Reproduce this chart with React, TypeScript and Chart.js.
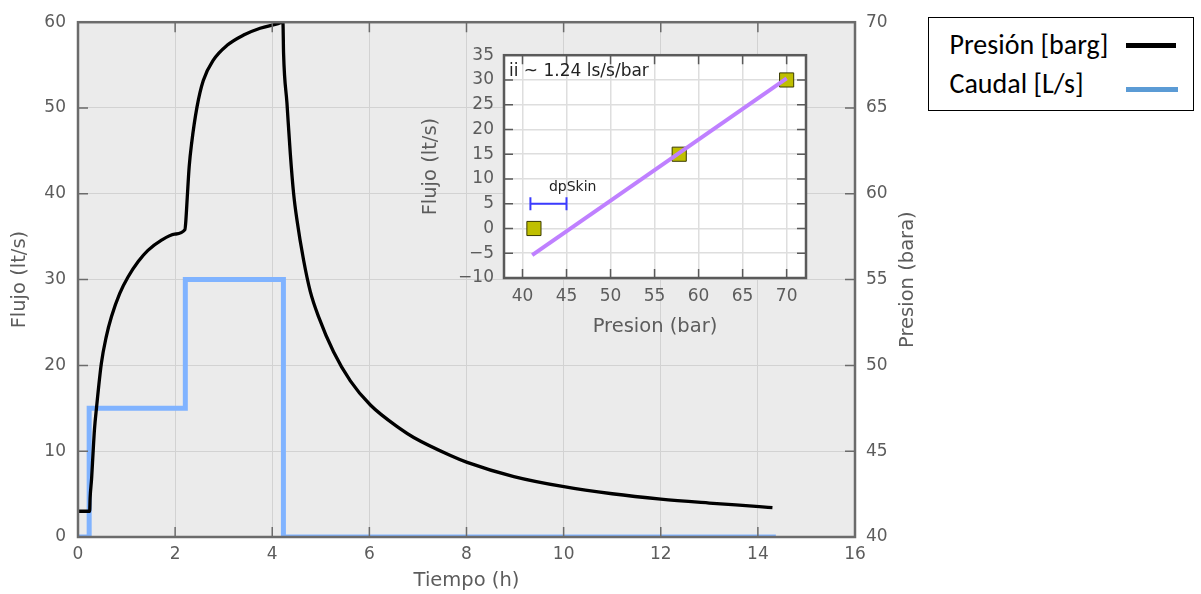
import React, { useEffect, useRef } from 'react';
import { Chart, registerables } from 'chart.js';

Chart.register(...registerables);

// ---------- Main chart data ----------
const pressureTime = [
  0, 0.24, 0.25, 0.28, 0.31, 0.34, 0.38, 0.48, 0.58, 0.69, 0.86, 1.03, 1.24, 1.44, 1.72, 1.99, 2.2,
  2.22, 2.25, 2.29, 2.34, 2.45, 2.58, 2.79, 3.07, 3.41, 3.75, 4.1, 4.22,
  4.233, 4.303, 4.371, 4.439, 4.509, 4.645, 4.784, 4.955, 5.264, 5.608, 6.021, 6.639, 6.913, 7.67,
  8.014, 8.975, 10.006, 11.0, 12.0, 13.0, 14.03, 14.3,
];
const pressureValues = [
  41.5, 41.5, 42.3, 43.4, 44.9, 46.3, 47.5, 50.1, 51.65, 52.85, 54.2, 55.15, 56.05, 56.7, 57.3, 57.65, 57.9,
  58.4, 59.8, 61.6, 62.95, 65.05, 66.6, 67.8, 68.65, 69.25, 69.65, 69.9, 70.0,
  68.2, 65.28, 62.37, 60.04, 58.47, 56.14, 54.3, 52.83, 50.78, 49.1, 47.69, 46.3, 45.8, 44.75,
  44.35, 43.52, 42.93, 42.52, 42.21, 41.98, 41.77, 41.71,
];
const caudalTime = [0, 0.23, 0.23, 2.21, 2.21, 4.23, 4.23, 14.37];
const caudalValues = [0, 0, 15, 15, 30, 30, 0, 0];

const mainXTicks = [0, 2, 4, 6, 8, 10, 12, 14, 16];
const flujoTicks = [0, 10, 20, 30, 40, 50, 60];
const presionTicks = [40, 45, 50, 55, 60, 65, 70];

const seriesNames = ['Presión [barg]', 'Caudal [L/s]'];

// ---------- Inset data ----------
const insetPresion = [41.3, 57.8, 70];
const insetFlujo = [0, 15, 30];
const fitPresion = [41.1, 70];
const fitFlujo = [-5.4, 30.3];
const skinPresion = [40.9, 45.0];
const skinFlujo = [5, 5];
const skinLabel = 'dpSkin';
const skinLabelPos = [45.7, 8.3];
const slopeLabel = 'ii ~ 1.24 ls/s/bar';
const insetXTicks = [40, 45, 50, 55, 60, 65, 70];
const insetYTicks = [-10, -5, 0, 5, 10, 15, 20, 25, 30, 35];

const GREY = '#5c5c5c';
const FONT = "'DejaVu Sans'";

const decor = {
  id: 'decor',
  beforeDraw(chart: any, _a: any, o: any) {
    const { ctx, chartArea: a } = chart;
    ctx.save();
    ctx.fillStyle = o.bg;
    ctx.fillRect(a.left, a.top, a.right - a.left, a.bottom - a.top);
    ctx.restore();
  },
  afterDatasetsDraw(chart: any, _a: any, o: any) {
    const { ctx, chartArea: a, scales } = chart;
    ctx.save();
    ctx.strokeStyle = o.frameColor;
    ctx.lineWidth = o.tickWidth;
    ctx.beginPath();
    scales.x.ticks.forEach((t: any) => {
      const px = scales.x.getPixelForValue(t.value);
      ctx.moveTo(px, a.bottom);
      ctx.lineTo(px, a.bottom - o.tickLen);
      ctx.moveTo(px, a.top);
      ctx.lineTo(px, a.top + o.tickLen);
    });
    scales.y.ticks.forEach((t: any) => {
      const py = scales.y.getPixelForValue(t.value);
      ctx.moveTo(a.left, py);
      ctx.lineTo(a.left + o.tickLen, py);
      ctx.moveTo(a.right, py);
      ctx.lineTo(a.right - o.tickLen, py);
    });
    ctx.stroke();
    ctx.lineWidth = o.frameWidth;
    ctx.strokeRect(a.left, a.top, a.right - a.left, a.bottom - a.top);
    (o.labels || []).forEach((l: any) => {
      ctx.save();
      ctx.font = l.font;
      ctx.fillStyle = l.color;
      ctx.textAlign = l.align || 'center';
      ctx.textBaseline = 'middle';
      let px: number;
      let py: number;
      if (l.dataPos) {
        px = scales.x.getPixelForValue(l.dataPos[0]);
        py = scales.y.getPixelForValue(l.dataPos[1]);
      } else {
        px = l.px != null ? l.px : a.left + l.dx;
        py = l.py != null ? l.py : (l.dy != null ? a.top + l.dy : (a.top + a.bottom) / 2);
      }
      ctx.translate(px, py);
      if (l.rotate) ctx.rotate(l.rotate);
      ctx.fillText(l.text, 0, 0);
      ctx.restore();
    });
    ctx.restore();
  },
};

const setTicks = (vals: number[]) => (s: any) => {
  s.ticks = vals.map((v) => ({ value: v }));
};
const fmt = (v: number) => (v < 0 ? '\u2212' + Math.abs(v) : String(v));

export default function App() {
  const mainRef = useRef<HTMLCanvasElement>(null);
  const insetRef = useRef<HTMLCanvasElement>(null);

  useEffect(() => {
    const tickFont = { family: FONT, size: 17 };
    const titleFont = { family: FONT, size: 19.5 };

    const main = new Chart(mainRef.current as HTMLCanvasElement, {
      type: 'line',
      data: {
        datasets: [
          {
            label: seriesNames[1],
            data: caudalTime.map((t, i) => ({ x: t, y: caudalValues[i] })),
            yAxisID: 'y',
            borderColor: '#80b3ff',
            borderWidth: 5,
            pointRadius: 0,
            fill: false,
            order: 2,
          },
          {
            label: seriesNames[0],
            data: pressureTime.map((t, i) => ({ x: t, y: pressureValues[i] })),
            yAxisID: 'y1',
            borderColor: '#000000',
            borderWidth: 3.3,
            pointRadius: 0,
            fill: false,
            cubicInterpolationMode: 'monotone',
            order: 1,
          },
        ],
      },
      options: {
        responsive: false,
        animation: false,
        devicePixelRatio: 1,
        layout: { padding: { top: 22, left: 0, right: 0, bottom: 0 } },
        plugins: {
          legend: { display: false },
          tooltip: { enabled: false },
          decor: {
            bg: '#ebebeb',
            frameColor: '#6b6b6b',
            frameWidth: 2.5,
            tickWidth: 1.5,
            tickLen: 10,
            labels: [
              { text: 'Presion (bara)', px: 908, rotate: -Math.PI / 2, font: `19.5px ${FONT}`, color: GREY },
            ],
          },
        } as any,
        scales: {
          x: {
            type: 'linear',
            min: 0,
            max: 16,
            afterBuildTicks: setTicks(mainXTicks),
            afterFit: (s: any) => { s.height = 57; },
            grid: { color: '#d2d2d2', lineWidth: 1, drawTicks: false },
            border: { display: false },
            ticks: { padding: 7.8, color: GREY, font: tickFont },
            title: { display: true, text: 'Tiempo (h)', color: GREY, font: titleFont, padding: { top: 0, bottom: 1.3 } },
          },
          y: {
            type: 'linear',
            position: 'left',
            min: 0,
            max: 60,
            afterBuildTicks: setTicks(flujoTicks),
            afterFit: (s: any) => { s.width = 78; },
            grid: { color: '#d2d2d2', lineWidth: 1, drawTicks: false },
            border: { display: false },
            ticks: { padding: 12, color: GREY, font: tickFont },
            title: { display: true, text: 'Flujo (lt/s)', color: GREY, font: titleFont, padding: { top: 8, bottom: 0 } },
          },
          y1: {
            type: 'linear',
            position: 'right',
            min: 40,
            max: 70,
            afterBuildTicks: setTicks(presionTicks),
            afterFit: (s: any) => { s.width = 71; },
            grid: { display: false, drawTicks: false },
            border: { display: false },
            ticks: { padding: 11, color: GREY, font: tickFont },
          },
        },
      } as any,
      plugins: [decor as any],
    });

    const inset = new Chart(insetRef.current as HTMLCanvasElement, {
      type: 'scatter',
      data: {
        datasets: [
          {
            label: 'ajuste',
            data: fitPresion.map((p, i) => ({ x: p, y: fitFlujo[i] })),
            showLine: true,
            borderColor: '#bf80ff',
            borderWidth: 4,
            pointRadius: 0,
            order: 1,
          },
          {
            label: 'puntos',
            data: insetPresion.map((p, i) => ({ x: p, y: insetFlujo[i] })),
            showLine: false,
            pointStyle: 'rect',
            pointRadius: 10,
            backgroundColor: '#bfbf00',
            borderColor: '#3a3a00',
            borderWidth: 1,
            order: 2,
          },
          {
            label: skinLabel,
            data: skinPresion.map((p, i) => ({ x: p, y: skinFlujo[i] })),
            showLine: true,
            borderColor: '#3b3bff',
            borderWidth: 2,
            pointStyle: 'line',
            rotation: 90,
            pointRadius: 6.5,
            pointBorderColor: '#3b3bff',
            pointBorderWidth: 2,
            order: 3,
          },
        ],
      },
      options: {
        responsive: false,
        animation: false,
        devicePixelRatio: 1,
        layout: { padding: { top: 18, left: 0, right: 14, bottom: 0 } },
        plugins: {
          legend: { display: false },
          tooltip: { enabled: false },
          decor: {
            bg: '#ffffff',
            frameColor: '#5a5a5a',
            frameWidth: 2.5,
            tickWidth: 1.5,
            tickLen: 9,
            labels: [
              { text: skinLabel, dataPos: skinLabelPos, font: `14px ${FONT}`, color: '#222' },
              { text: slopeLabel, dx: 5, dy: 16.5, align: 'left', font: `17px ${FONT}`, color: '#222' },
            ],
          },
        } as any,
        scales: {
          x: {
            type: 'linear',
            min: 37.9,
            max: 72.2,
            afterBuildTicks: setTicks(insetXTicks),
            afterFit: (s: any) => { s.height = 67; },
            grid: { color: '#dedede', lineWidth: 1.5, drawTicks: false },
            border: { display: false },
            ticks: { padding: 8.5, color: GREY, font: tickFont },
            title: { display: true, text: 'Presion (bar)', color: GREY, font: titleFont, padding: { top: 0, bottom: 6.6 } },
          },
          y: {
            type: 'linear',
            min: -10,
            max: 35,
            afterBuildTicks: setTicks(insetYTicks),
            afterFit: (s: any) => { s.width = 86; },
            grid: { color: '#dedede', lineWidth: 1.5, drawTicks: false },
            border: { display: false },
            ticks: { padding: 10, color: GREY, font: tickFont, callback: (v: any) => fmt(Number(v)) },
            title: { display: true, text: 'Flujo (lt/s)', color: GREY, font: titleFont, padding: { top: 1, bottom: 0 } },
          },
        },
      } as any,
      plugins: [decor as any],
    });

    return () => {
      main.destroy();
      inset.destroy();
    };
  }, []);

  const legendFont = "28px Carlito, Lato, 'Open Sans', sans-serif";

  return (
    <div style={{ position: 'absolute', left: 0, top: 0, width: 1201, height: 594, background: '#fff', overflow: 'hidden' }}>
      <canvas ref={mainRef} width={926} height={594} style={{ position: 'absolute', left: 0, top: 0, width: 926, height: 594 }} />
      <canvas ref={insetRef} width={402} height={310} style={{ position: 'absolute', left: 418, top: 35, width: 402, height: 310 }} />
      <div
        style={{
          position: 'absolute',
          left: 928,
          top: 17,
          width: 266,
          height: 94,
          boxSizing: 'border-box',
          border: '1.5px solid #000',
          background: '#fff',
        }}
      >
        <span style={{ position: 'absolute', left: 20.5, top: 13.4, font: legendFont, lineHeight: '28px', color: '#000', whiteSpace: 'nowrap' }}>
          {seriesNames[0]}
        </span>
        <div style={{ position: 'absolute', left: 197, top: 25.3, width: 50, height: 4.5, background: '#000' }} />
        <span style={{ position: 'absolute', left: 20.5, top: 51.7, font: legendFont, lineHeight: '28px', color: '#000', whiteSpace: 'nowrap' }}>
          {seriesNames[1]}
        </span>
        <div style={{ position: 'absolute', left: 197, top: 68.5, width: 52, height: 5, background: '#5b9bd5' }} />
      </div>
    </div>
  );
}
